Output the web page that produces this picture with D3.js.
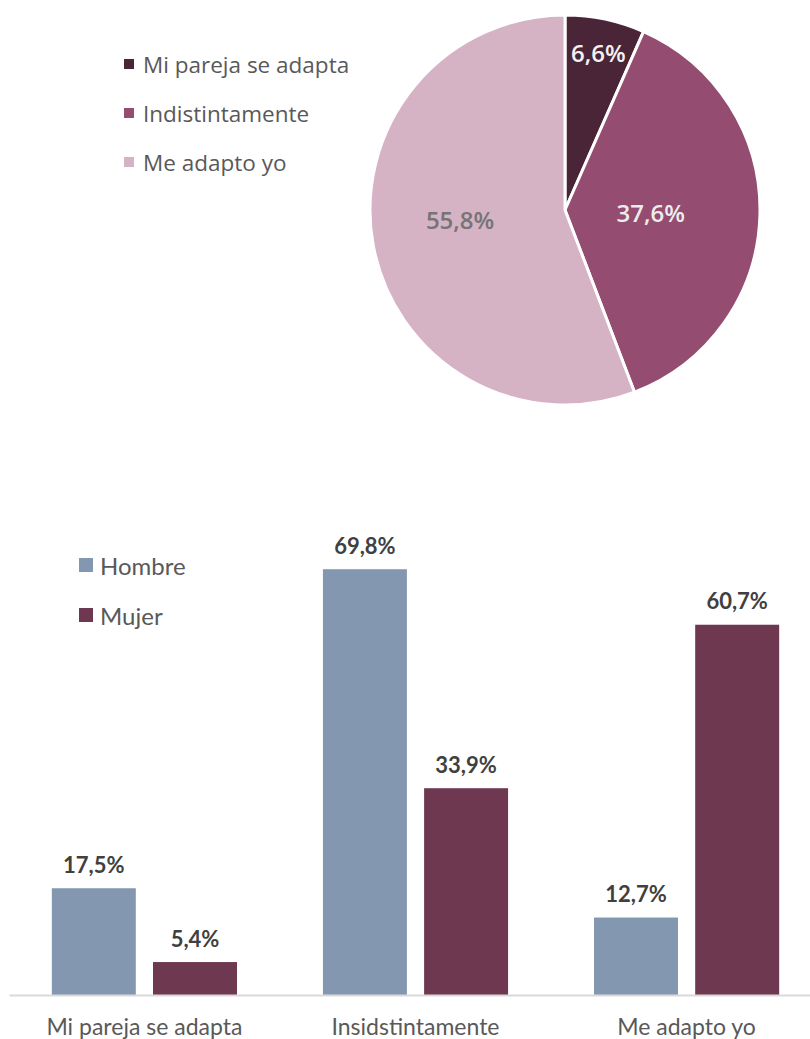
<!DOCTYPE html>
<html>
<head>
<meta charset="utf-8">
<script src="https://cdn.jsdelivr.net/npm/d3@7"></script>
<style>
  html, body { margin: 0; padding: 0; background: #fff; }
  svg { display: block; font-family: Lato, "Open Sans", sans-serif; }
</style>
</head>
<body>
<svg id="chart" width="810" height="1039"></svg>
<script>
// Pie: who adapts
const pieCategories = ["Mi pareja se adapta", "Indistintamente", "Me adapto yo"];
const pieValues = [6.6, 37.6, 55.8];
const pieColors = ["#4a2537", "#944d70", "#d6b2c5"];
const pieLabelColors = ["#f2f2f2", "#ececec", "#757575"];

// Bars: by sex
const barCategories = ["Mi pareja se adapta", "Insidstintamente", "Me adapto yo"];
const barSeries = ["Hombre", "Mujer"];
const hombreValues = [17.5, 69.8, 12.7];
const mujerValues = [5.4, 33.9, 60.7];
const barColors = ["#8497b0", "#6f3851"];

const fmt = v => d3.format(".1f")(v).replace(".", ",") + "%";
const svg = d3.select("#chart");

// ---------- pie ----------
const cx = 565, cy = 210, r = 195;
const pie = d3.pie().sort(null).value(d => d)(pieValues);
const arc = d3.arc().innerRadius(0).outerRadius(r);
const gPie = svg.append("g").attr("transform", `translate(${cx},${cy})`);
gPie.selectAll("path").data(pie).join("path")
  .attr("d", arc)
  .attr("fill", (d, i) => pieColors[i])
  .attr("stroke", "#fff")
  .attr("stroke-width", 3)
  .attr("stroke-linejoin", "round");

// label placement per slice: radius fraction and angle shift (radians)
const labelRadius = [0.81, 0.44, 0.54];
const labelAngleShift = [0.005, 0, 0.095];
gPie.selectAll("text.lbl").data(pie).join("text")
  .attr("class", "lbl")
  .attr("transform", (d, i) => {
    const a = (d.startAngle + d.endAngle) / 2 + labelAngleShift[i];
    const rr = r * labelRadius[i];
    return `translate(${Math.sin(a) * rr},${-Math.cos(a) * rr - (i === 0 ? 3 : 0)})`;
  })
  .attr("text-anchor", "middle")
  .attr("dominant-baseline", "central")
  .attr("font-family", "'Open Sans', sans-serif")
  .attr("font-size", 24)
  .attr("font-weight", 600)
  .attr("fill", (d, i) => pieLabelColors[i])
  .text(d => fmt(d.data));

// pie legend
const gPL = svg.append("g").attr("transform", "translate(124,64)");
pieCategories.forEach((c, i) => {
  const g = gPL.append("g").attr("transform", `translate(0,${i * 49})`);
  g.append("rect").attr("x", 0).attr("y", -5).attr("width", 10).attr("height", 10).attr("fill", pieColors[i]);
  g.append("text").attr("x", 19).attr("y", 0).attr("dominant-baseline", "central")
    .attr("font-family", "'Open Sans', sans-serif")
    .attr("font-size", 22.5).attr("fill", "#595959").text(c);
});

// ---------- bars ----------
const baseY = 995;
const x0 = d3.scaleBand().domain(barCategories).range([9, 822]).paddingInner(0.317).paddingOuter(0.158);
const x1 = d3.scaleBand().domain(barSeries).range([0, x0.bandwidth()]).paddingInner(0.17);
const y = d3.scaleLinear().domain([0, 80]).range([baseY, baseY - 488]);

const rows = barCategories.map((c, i) => ({ cat: c, vals: [hombreValues[i], mujerValues[i]] }));
const gBars = svg.append("g");
const grp = gBars.selectAll("g.grp").data(rows).join("g")
  .attr("class", "grp")
  .attr("transform", d => `translate(${x0(d.cat)},0)`);

grp.selectAll("rect").data(d => d.vals.map((v, j) => ({ s: barSeries[j], v, j }))).join("rect")
  .attr("x", d => x1(d.s))
  .attr("y", d => y(d.v))
  .attr("width", x1.bandwidth())
  .attr("height", d => baseY - y(d.v))
  .attr("fill", d => barColors[d.j]);

grp.selectAll("text.val").data(d => d.vals.map((v, j) => ({ s: barSeries[j], v, j }))).join("text")
  .attr("class", "val")
  .attr("x", d => x1(d.s) + x1.bandwidth() / 2)
  .attr("y", d => y(d.v) - 24)
  .attr("text-anchor", "middle")
  .attr("dominant-baseline", "central")
  .attr("font-size", 22)
  .attr("font-weight", "bold")
  .attr("fill", "#404040")
  .text(d => fmt(d.v));

// axis
const xAxis = d3.axisBottom(x0).tickSize(0).tickPadding(24);
const gAx = svg.append("g").attr("transform", `translate(0,${baseY})`).call(xAxis);
gAx.select(".domain").attr("stroke", "#d9d9d9").attr("stroke-width", 2);
gAx.selectAll(".tick text").attr("font-size", 23).attr("fill", "#595959")
  .attr("font-family", "Lato, 'Open Sans', sans-serif");

// bar legend
const gBL = svg.append("g").attr("transform", "translate(79,565)");
barSeries.forEach((s, i) => {
  const g = gBL.append("g").attr("transform", `translate(0,${i * 50})`);
  g.append("rect").attr("x", 0).attr("y", -7).attr("width", 14).attr("height", 14).attr("fill", barColors[i]);
  g.append("text").attr("x", 21).attr("y", 0).attr("dominant-baseline", "central")
    .attr("font-size", 24).attr("fill", "#595959").text(s);
});
</script>
</body>
</html>
